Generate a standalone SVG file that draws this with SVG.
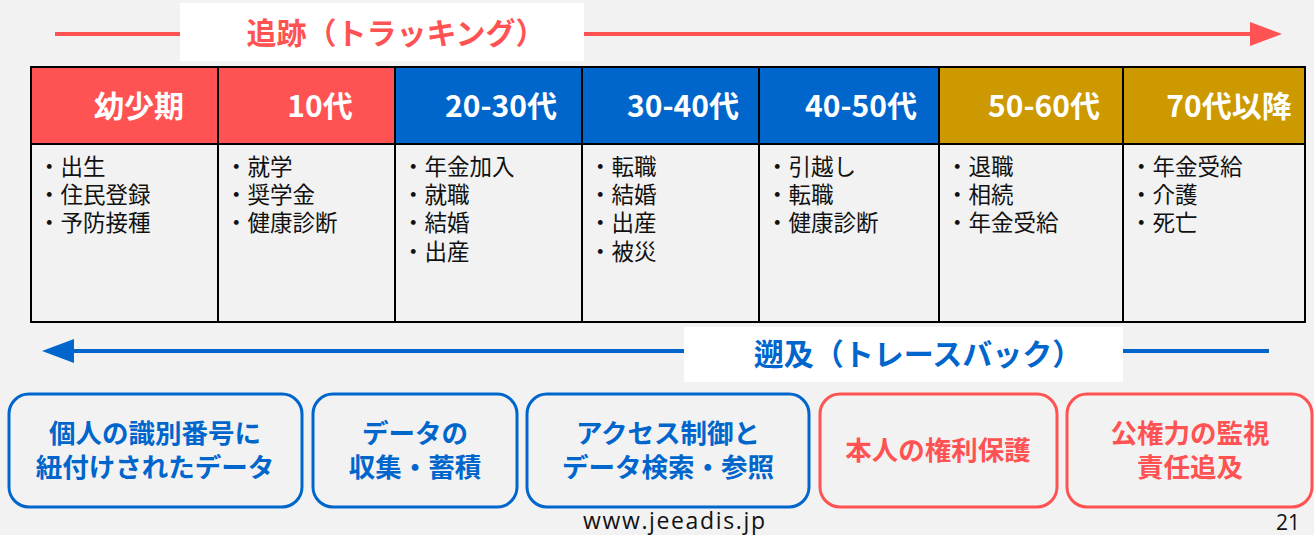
<svg xmlns="http://www.w3.org/2000/svg" width="1314" height="535" viewBox="0 0 1314 535">
<defs>
<style>
.jp{font-family:"Noto Sans CJK JP","Noto Sans",sans-serif}
.hd{font-family:"Noto Sans CJK JP","Noto Sans",sans-serif;font-weight:bold;font-size:30px;fill:#ffffff;text-anchor:middle}
.body{font-family:"Noto Sans CJK JP","Noto Sans",sans-serif;font-size:22.5px;fill:#111111}
.grid{stroke:#000000;stroke-width:2;fill:none}
.bx{fill:none;stroke-width:3}
.bt{font-family:"Noto Sans CJK JP","Noto Sans",sans-serif;font-weight:bold;font-size:26.5px;text-anchor:middle}
.blue{stroke:#0066cc}
.red{stroke:#ff5252}
.tblue{fill:#0066cc}
.tred{fill:#ff5252}
.ft{font-family:"Open Sans","Noto Sans",sans-serif;fill:#111111}
</style>
<marker id="headR" markerWidth="8" markerHeight="6" refX="0" refY="3" orient="auto" markerUnits="strokeWidth"><path d="M0,0 L8,3 L0,6 Z" fill="#ff5252"/></marker>
<marker id="headB" markerWidth="8" markerHeight="6" refX="0" refY="3" orient="auto" markerUnits="strokeWidth"><path d="M0,0 L8,3 L0,6 Z" fill="#0066cc"/></marker>
</defs>
<rect x="0" y="0" width="1314" height="535" fill="#f2f2f2"/>

<g id="connectors">
<line x1="55" y1="34" x2="1250" y2="34" stroke="#ff5252" stroke-width="4" marker-end="url(#headR)"/>
<line x1="1269" y1="351" x2="74" y2="351" stroke="#0066cc" stroke-width="4" marker-end="url(#headB)"/>
</g>

<g id="title-tracking">
<rect x="180" y="3" width="404" height="58" fill="#ffffff"/>
<text x="396" y="44" class="jp" font-size="30" font-weight="bold" fill="#ff5252" text-anchor="middle">追跡（トラッキング）</text>
</g>

<g id="title-traceback">
<rect x="684" y="327" width="439" height="55" fill="#ffffff"/>
<text x="918" y="365" class="jp" font-size="30" font-weight="bold" fill="#0066cc" text-anchor="middle">遡及（トレースバック）</text>
</g>

<g id="table">
<rect x="31" y="67" width="187" height="77" fill="#ff5252"/>
<rect x="218" y="67" width="177" height="77" fill="#ff5252"/>
<rect x="395" y="67" width="187" height="77" fill="#0066cc"/>
<rect x="582" y="67" width="177" height="77" fill="#0066cc"/>
<rect x="759" y="67" width="180" height="77" fill="#0066cc"/>
<rect x="939" y="67" width="184" height="77" fill="#cc9900"/>
<rect x="1123" y="67" width="182" height="77" fill="#cc9900"/>
<rect x="31" y="67" width="1274" height="255" class="grid"/>
<line x1="31" y1="144" x2="1305" y2="144" class="grid"/>
<line x1="218" y1="67" x2="218" y2="322" class="grid"/>
<line x1="395" y1="67" x2="395" y2="322" class="grid"/>
<line x1="582" y1="67" x2="582" y2="322" class="grid"/>
<line x1="759" y1="67" x2="759" y2="322" class="grid"/>
<line x1="939" y1="67" x2="939" y2="322" class="grid"/>
<line x1="1123" y1="67" x2="1123" y2="322" class="grid"/>
</g>

<g id="col-youth">
<text x="139" y="117" class="hd">幼少期</text>
<text class="body"><tspan x="38" y="175">・出生</tspan><tspan x="38" y="203">・住民登録</tspan><tspan x="38" y="231">・予防接種</tspan></text>
</g>
<g id="col-10s">
<text x="320" y="117" class="hd">10代</text>
<text class="body"><tspan x="225" y="175">・就学</tspan><tspan x="225" y="203">・奨学金</tspan><tspan x="225" y="231">・健康診断</tspan></text>
</g>
<g id="col-20-30s">
<text x="501" y="117" class="hd">20-30代</text>
<text class="body"><tspan x="402" y="175">・年金加入</tspan><tspan x="402" y="203">・就職</tspan><tspan x="402" y="231">・結婚</tspan><tspan x="402" y="260">・出産</tspan></text>
</g>
<g id="col-30-40s">
<text x="683" y="117" class="hd">30-40代</text>
<text class="body"><tspan x="589" y="175">・転職</tspan><tspan x="589" y="203">・結婚</tspan><tspan x="589" y="231">・出産</tspan><tspan x="589" y="260">・被災</tspan></text>
</g>
<g id="col-40-50s">
<text x="861" y="117" class="hd">40-50代</text>
<text class="body"><tspan x="766" y="175">・引越し</tspan><tspan x="766" y="203">・転職</tspan><tspan x="766" y="231">・健康診断</tspan></text>
</g>
<g id="col-50-60s">
<text x="1044" y="117" class="hd">50-60代</text>
<text class="body"><tspan x="946" y="175">・退職</tspan><tspan x="946" y="203">・相続</tspan><tspan x="946" y="231">・年金受給</tspan></text>
</g>
<g id="col-70s">
<text x="1229" y="117" class="hd">70代以降</text>
<text class="body"><tspan x="1130" y="175">・年金受給</tspan><tspan x="1130" y="203">・介護</tspan><tspan x="1130" y="231">・死亡</tspan></text>
</g>

<g id="box-id-data">
<rect x="9" y="394" width="293" height="113" rx="20" class="bx blue"/>
<text class="bt tblue"><tspan x="155" y="443">個人の識別番号に</tspan><tspan x="155" y="477">紐付けされたデータ</tspan></text>
</g>
<g id="box-collect">
<rect x="313" y="394" width="204" height="113" rx="20" class="bx blue"/>
<text class="bt tblue"><tspan x="415" y="443">データの</tspan><tspan x="415" y="477">収集・蓄積</tspan></text>
</g>
<g id="box-access">
<rect x="527" y="394" width="282" height="113" rx="20" class="bx blue"/>
<text class="bt tblue"><tspan x="668" y="443">アクセス制御と</tspan><tspan x="668" y="477">データ検索・参照</tspan></text>
</g>
<g id="box-rights">
<rect x="820" y="394" width="237" height="113" rx="20" class="bx red"/>
<text x="938" y="460" class="bt tred">本人の権利保護</text>
</g>
<g id="box-oversight">
<rect x="1067" y="394" width="245" height="113" rx="20" class="bx red"/>
<text class="bt tred"><tspan x="1190" y="443">公権力の監視</tspan><tspan x="1190" y="477">責任追及</tspan></text>
</g>

<g id="footer">
<text x="583" y="529" class="ft" font-size="23" textLength="182" lengthAdjust="spacing">www.jeeadis.jp</text>
<text x="1300" y="530" class="ft" font-size="21" text-anchor="end">21</text>
</g>
</svg>
